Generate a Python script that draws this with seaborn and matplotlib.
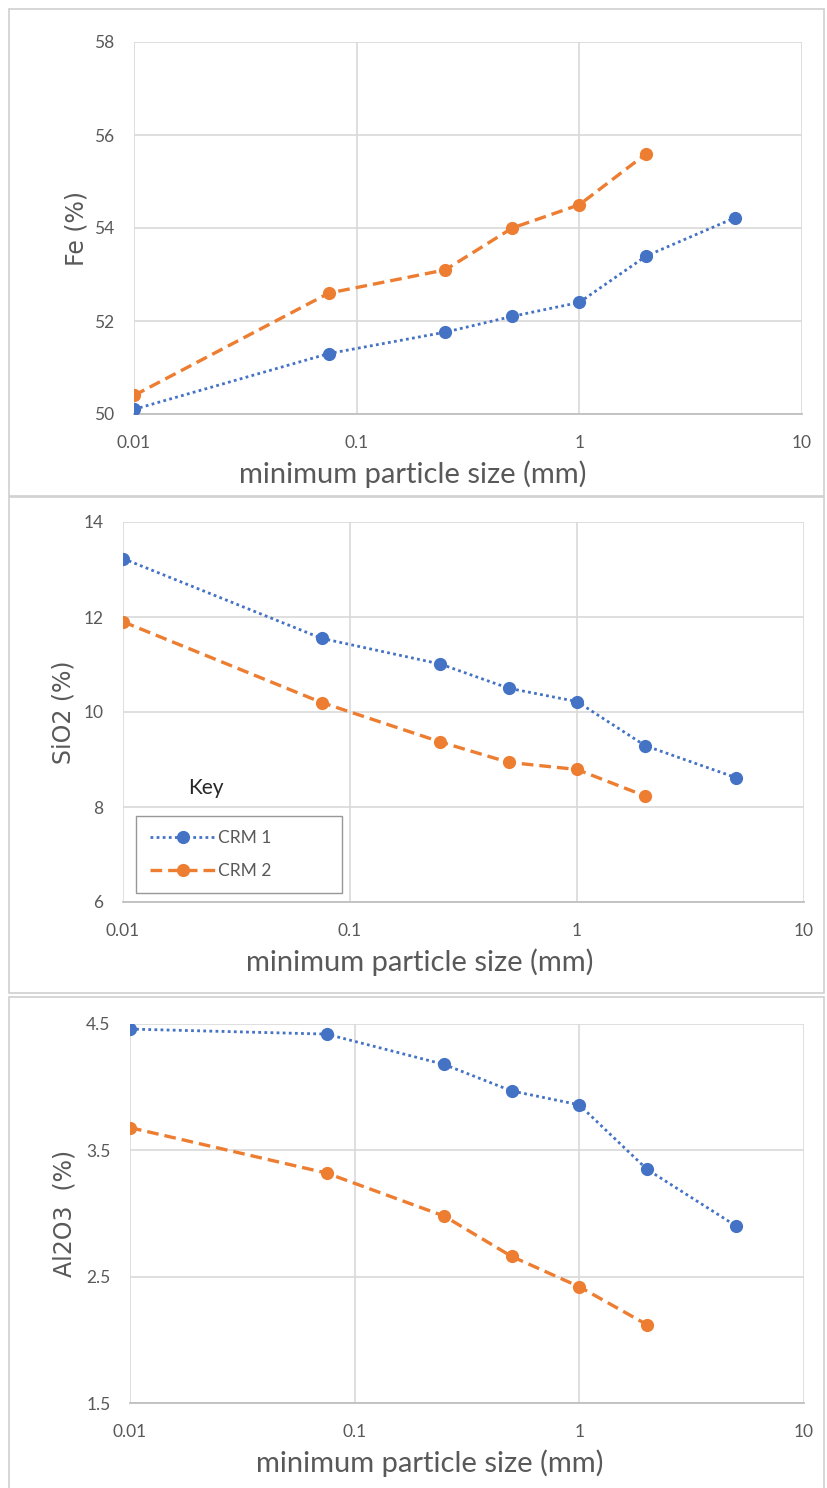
import numpy as np
import pandas as pd
import matplotlib
matplotlib.use("Agg")
import matplotlib.pyplot as plt
from matplotlib.patches import Rectangle
from matplotlib.ticker import FixedLocator, FixedFormatter, NullLocator
import seaborn as sns

# ---------------- data ----------------
sizes_crm1 = [0.01, 0.075, 0.25, 0.5, 1, 2, 5]
sizes_crm2 = [0.01, 0.075, 0.25, 0.5, 1, 2]

fe_crm1 = [50.1, 51.3, 51.76, 52.1, 52.4, 53.4, 54.22]
fe_crm2 = [50.4, 52.6, 53.1, 54.0, 54.5, 55.6]

sio2_crm1 = [13.23, 11.55, 11.01, 10.5, 10.22, 9.29, 8.62]
sio2_crm2 = [11.9, 10.2, 9.37, 8.94, 8.79, 8.23]

al2o3_crm1 = [4.46, 4.42, 4.18, 3.97, 3.86, 3.35, 2.9]
al2o3_crm2 = [3.68, 3.32, 2.98, 2.66, 2.42, 2.12]

x_ticks = [0.01, 0.1, 1, 10]
x_tick_labels = ["0.01", "0.1", "1", "10"]
series_names = ["CRM 1", "CRM 2"]
x_label = "minimum particle size (mm)"

panels = [
    dict(y1=fe_crm1, y2=fe_crm2, ylabel="Fe (%)", yticks=[50, 52, 54, 56, 58],
         ylabels=["50", "52", "54", "56", "58"], ylim=(50, 58), ypad=4, xlx=0.418),
    dict(y1=sio2_crm1, y2=sio2_crm2, ylabel="SiO2 (%)", yticks=[6, 8, 10, 12, 14],
         ylabels=["6", "8", "10", "12", "14"], ylim=(6, 14), ypad=6, xlx=0.436),
    dict(y1=al2o3_crm1, y2=al2o3_crm2, ylabel="Al2O3  (%)", yticks=[1.5, 2.5, 3.5, 4.5],
         ylabels=["1.5", "2.5", "3.5", "4.5"], ylim=(1.5, 4.5), ypad=7, xlx=0.445),
]

# ---------------- layout (pixels) ----------------
W, H = 827, 1488
axes_px = [  # left, right, top, bottom
    (134, 802, 42, 414),
    (123, 804, 522, 902),
    (130, 804, 1024, 1403),
]
frames_px = [  # left, right, top, bottom
    (9, 824, 9, 496),
    (9, 824, 497, 993),
    (9, 824, 997, 1490),
]

BLUE = "#4472C4"
ORANGE = "#ED7D31"
GRID = "#D9D9D9"
TXT = "#595959"

sns.set_theme(style="white")
plt.rcParams["font.family"] = ["Lato", "DejaVu Sans"]

fig = plt.figure(figsize=(W / 100, H / 100), dpi=100)
fig.patch.set_facecolor("white")

for (l, r, t, b) in frames_px:
    fig.add_artist(Rectangle((l / W, 1 - b / H), (r - l) / W, (b - t) / H,
                             transform=fig.transFigure, fill=False,
                             edgecolor="#D0D0D0", linewidth=1.2))

for i, (p, (l, r, t, b)) in enumerate(zip(panels, axes_px)):
    ax = fig.add_axes([l / W, 1 - b / H, (r - l) / W, (b - t) / H])
    df1 = pd.DataFrame({"size": sizes_crm1, "value": p["y1"]})
    df2 = pd.DataFrame({"size": sizes_crm2, "value": p["y2"]})
    sns.lineplot(data=df1, x="size", y="value", ax=ax, color=BLUE,
                 linestyle=(0, (1, 1.2)), linewidth=2.0, marker="o",
                 markersize=9.5, markeredgewidth=0, label=series_names[0],
                 zorder=3)
    sns.lineplot(data=df2, x="size", y="value", ax=ax, color=ORANGE,
                 linestyle=(0, (3.5, 1.8)), linewidth=2.4, marker="o",
                 markersize=9.5, markeredgewidth=0, label=series_names[1],
                 zorder=3)
    ax.set_xscale("log")
    ax.set_xlim(0.01, 10)
    ax.set_ylim(*p["ylim"])
    ax.xaxis.set_major_locator(FixedLocator(x_ticks))
    ax.xaxis.set_major_formatter(FixedFormatter(x_tick_labels))
    ax.xaxis.set_minor_locator(NullLocator())
    ax.yaxis.set_major_locator(FixedLocator(p["yticks"]))
    ax.yaxis.set_major_formatter(FixedFormatter(p["ylabels"]))
    ax.grid(True, color=GRID, linewidth=1.2)
    ax.set_axisbelow(True)
    for s in ["top", "right", "left"]:
        ax.spines[s].set_visible(False)
    ax.spines["bottom"].set_color("#BFBFBF")
    ax.spines["bottom"].set_linewidth(1.3)
    ax.tick_params(axis="both", length=0, labelsize=12.5, labelcolor=TXT)
    ax.tick_params(axis="y", pad=14)
    ax.tick_params(axis="x", pad=15)
    ax.set_xlabel(x_label, fontsize=21, color=TXT, labelpad=7)
    ax.xaxis.label.set_x(p["xlx"])
    ax.set_ylabel(p["ylabel"], fontsize=17, color=TXT, labelpad=p["ypad"],
                  family=["DejaVu Sans"])
    if i == 1:
        leg = ax.legend(loc="upper left",
                        bbox_to_anchor=(136 / W, 1 - 897 / H, 206 / W, 81 / H),
                        bbox_transform=fig.transFigure, mode="expand",
                        frameon=True, fancybox=False, fontsize=12.5,
                        labelcolor=TXT, handlelength=3.8, borderpad=0.8,
                        labelspacing=1.0, handletextpad=0.1, borderaxespad=0)
        leg.get_frame().set_edgecolor("#7F7F7F")
        leg.get_frame().set_linewidth(1.0)
        fig.text(188 / W, 1 - 788 / H, "Key", fontsize=15, color="#262626",
                 va="center", ha="left")
    else:
        lg = ax.get_legend()
        if lg is not None:
            lg.remove()

fig.savefig("out.png", dpi=100, facecolor="white")
